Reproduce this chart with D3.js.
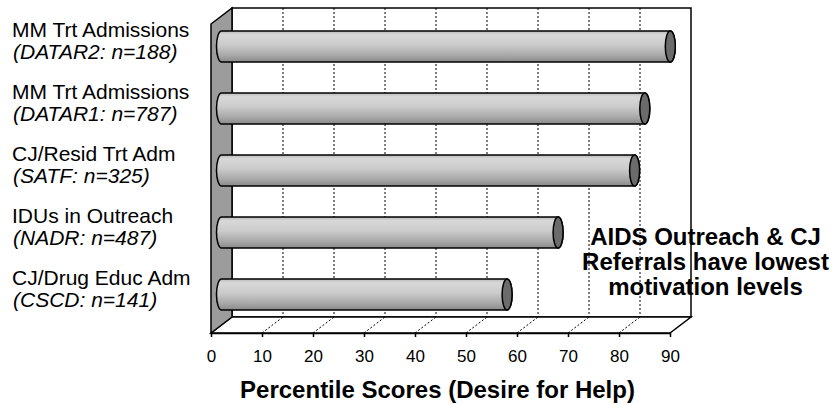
<!DOCTYPE html>
<html>
<head>
<meta charset="utf-8">
<script src="https://cdn.jsdelivr.net/npm/d3@7"></script>
<style>
  body { margin: 0; background: white; }
  text { font-family: "Liberation Sans", Arial, sans-serif; }
</style>
</head>
<body>
<div id="chart"></div>
<script>
// data
var groups = ["MM Trt Admissions", "MM Trt Admissions", "CJ/Resid Trt Adm", "IDUs in Outreach", "CJ/Drug Educ Adm"]
var sources = ["(DATAR2: n=188)", "(DATAR1: n=787)", "(SATF: n=325)", "(NADR: n=487)", "(CSCD: n=141)"]
var scores = [88, 83, 81, 66, 56]
var ticks = [0, 10, 20, 30, 40, 50, 60, 70, 80, 90]
var note = ["AIDS Outreach & CJ", "Referrals have lowest", "motivation levels"]

const width = 836
const height = 404

// 3d depth offset of the box
const depthX = 21
const depthY = -16

const frontBottom = 333
const backTop = 8

const svg = d3.select("#chart").append("svg")
    .attr("width", width)
    .attr("height", height)

const x = d3.scaleLinear().domain([0, 90]).range([211, 670])

const y = d3.scalePoint()
    .domain(d3.range(groups.length))
    .range([46.5, 294.5])

const barHeight = 31

const defs = svg.append("defs")
const grad = defs.append("linearGradient")
    .attr("id", "barGradient")
    .attr("x1", "0%").attr("y1", "0%")
    .attr("x2", "0%").attr("y2", "100%")

grad.append("stop").attr("offset", "0%").style("stop-color", "#b8b8b8")
grad.append("stop").attr("offset", "12%").style("stop-color", "#d8d8d8")
grad.append("stop").attr("offset", "45%").style("stop-color", "#cbcbcb")
grad.append("stop").attr("offset", "80%").style("stop-color", "#a6a6a6")
grad.append("stop").attr("offset", "100%").style("stop-color", "#8a8a8a")

// back wall
svg.append("rect")
    .attr("x", x(0) + depthX)
    .attr("y", backTop)
    .attr("width", x(90) - x(0))
    .attr("height", frontBottom + depthY - backTop)
    .style("fill", "white")
    .style("stroke", "black")
    .style("stroke-width", 1.5)

// dotted gridlines on the back wall
svg.append("g").selectAll("line")
    .data(ticks.slice(1, -1))
    .enter().append("line")
    .attr("x1", d => x(d) + depthX)
    .attr("x2", d => x(d) + depthX)
    .attr("y1", backTop)
    .attr("y2", frontBottom + depthY)
    .style("stroke", "black")
    .style("stroke-width", 1)
    .style("stroke-dasharray", "2,2")

// floor
svg.append("path")
    .attr("d", "M" + x(0) + "," + frontBottom +
        "L" + x(90) + "," + frontBottom +
        "L" + (x(90) + depthX) + "," + (frontBottom + depthY) +
        "L" + (x(0) + depthX) + "," + (frontBottom + depthY) + "Z")
    .style("fill", "white")
    .style("stroke", "black")
    .style("stroke-width", 1.5)

svg.append("g").selectAll("line")
    .data(ticks.slice(1, -1))
    .enter().append("line")
    .attr("x1", d => x(d))
    .attr("x2", d => x(d) + depthX)
    .attr("y1", frontBottom)
    .attr("y2", frontBottom + depthY)
    .style("stroke", "black")
    .style("stroke-width", 1)
    .style("stroke-dasharray", "2,2")

// left wall
svg.append("path")
    .attr("d", "M" + x(0) + "," + (backTop - depthY) +
        "L" + (x(0) + depthX) + "," + backTop +
        "L" + (x(0) + depthX) + "," + (frontBottom + depthY) +
        "L" + x(0) + "," + frontBottom + "Z")
    .style("fill", "#9c9c9c")
    .style("stroke", "black")
    .style("stroke-width", 1.5)

// front axis
const axis = d3.axisBottom(x)
    .tickValues(ticks)
    .tickSize(4)
    .tickPadding(13)
    .tickSizeOuter(0)

const axisG = svg.append("g")
    .attr("transform", "translate(0," + frontBottom + ")")
    .call(axis)

axisG.select(".domain").style("stroke-width", 1.5)
axisG.selectAll(".tick line").style("stroke-width", 1.5)
axisG.selectAll(".tick text")
    .style("font-family", "'Liberation Sans', Arial, sans-serif")
    .style("font-size", "17px")
    .style("fill", "black")

// cylinders
const rx = 5
const zeroX = x(0) + depthX / 2

const bars = svg.append("g").selectAll("g")
    .data(scores)
    .enter().append("g")

bars.append("path")
    .attr("d", function(d, i) {
        const top = y(i) - barHeight / 2
        const bottom = y(i) + barHeight / 2
        const x1 = x(d) + depthX / 2
        return "M" + zeroX + "," + top +
            "L" + x1 + "," + top +
            "A" + rx + "," + (barHeight / 2) + " 0 0 1 " + x1 + "," + bottom +
            "L" + zeroX + "," + bottom +
            "A" + rx + "," + (barHeight / 2) + " 0 0 1 " + zeroX + "," + top + "Z"
    })
    .style("fill", "url(#barGradient)")
    .style("stroke", "black")
    .style("stroke-width", 1.5)

bars.append("ellipse")
    .attr("cx", d => x(d) + depthX / 2)
    .attr("cy", (d, i) => y(i))
    .attr("rx", rx)
    .attr("ry", barHeight / 2)
    .style("fill", "#6b6b6b")
    .style("stroke", "black")
    .style("stroke-width", 1.5)

// category labels
svg.append("g").selectAll("text")
    .data(groups)
    .enter().append("text")
    .attr("x", 12)
    .attr("y", (d, i) => y(i) - 10)
    .style("font-size", "21px")
    .text(d => d)

svg.append("g").selectAll("text")
    .data(sources)
    .enter().append("text")
    .attr("x", 13)
    .attr("y", (d, i) => y(i) + 12)
    .style("font-size", "21px")
    .style("font-style", "italic")
    .text(d => d)

// axis title
svg.append("text")
    .attr("x", 437.5)
    .attr("y", 398)
    .attr("text-anchor", "middle")
    .style("font-size", "24px")
    .style("font-weight", "bold")
    .text("Percentile Scores (Desire for Help)")

// annotation
svg.append("g").selectAll("text")
    .data(note)
    .enter().append("text")
    .attr("x", 705.5)
    .attr("y", (d, i) => 245 + i * 25)
    .attr("text-anchor", "middle")
    .style("font-size", "24px")
    .style("font-weight", "bold")
    .text(d => d)
</script>
</body>
</html>
